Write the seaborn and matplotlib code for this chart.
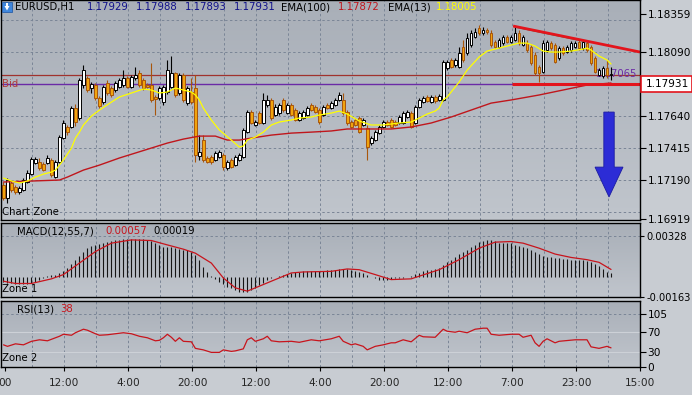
import numpy as np
import pandas as pd
import matplotlib
matplotlib.use("Agg")
import matplotlib.pyplot as plt
import seaborn as sns
from matplotlib.patches import Rectangle, Polygon
from matplotlib.colors import LinearSegmentedColormap

# ---------------------------------------------------------------- data
symbol = "EURUSD,H1"
header_ohlc = ["1.17929", "1.17988", "1.17893", "1.17931"]
ema100_text, ema13_text = "1.17872", "1.18005"
macd_texts = ("0.00057", "0.00019")
rsi_text = "38"
bid_price = 1.17931
bid_line2 = 1.17865
obj_label = "1.17065"

open_ = [1.17155, 1.17064, 1.17169, 1.17141, 1.17106, 1.17120, 1.17176, 1.17232, 1.17309, 1.17317,
         1.17302, 1.17309, 1.17331, 1.17211, 1.17317, 1.17485, 1.17563, 1.17563, 1.17696, 1.17626,
         1.17858, 1.17907, 1.17837, 1.17858, 1.17767, 1.17738, 1.17872, 1.17837, 1.17823, 1.17844,
         1.17858, 1.17907, 1.17844, 1.17907, 1.17942, 1.17893, 1.17858, 1.17858, 1.17774, 1.17767,
         1.17738, 1.17809, 1.17844, 1.17942, 1.17802, 1.17928, 1.17731, 1.17809, 1.17837, 1.17359,
         1.17471, 1.17345, 1.17352, 1.17331, 1.17352, 1.17366, 1.17274, 1.17331, 1.17295, 1.17331,
         1.17352, 1.17527, 1.17668, 1.17577, 1.17661, 1.17591, 1.17717, 1.17753, 1.17647, 1.17661,
         1.17753, 1.17661, 1.17717, 1.17682, 1.17612, 1.17626, 1.17647, 1.17717, 1.17703, 1.17682,
         1.17647, 1.17717, 1.17696, 1.17717, 1.17753, 1.17753, 1.17668, 1.17598, 1.17612, 1.17626,
         1.17577, 1.17556, 1.17450, 1.17471, 1.17520, 1.17563, 1.17598, 1.17612, 1.17598, 1.17591,
         1.17591, 1.17633, 1.17661, 1.17591, 1.17703, 1.17738, 1.17774, 1.17738, 1.17774, 1.17753,
         1.17753, 1.17978, 1.18034, 1.17999, 1.17985, 1.18125, 1.18083, 1.18139, 1.18196, 1.18259,
         1.18224, 1.18245, 1.18224, 1.18160, 1.18125, 1.18153, 1.18196, 1.18160, 1.18174, 1.18224,
         1.18139, 1.18153, 1.18125, 1.18069, 1.17985, 1.17949, 1.18104, 1.18153, 1.18139, 1.18048,
         1.18118, 1.18090, 1.18104, 1.18125, 1.18160, 1.18118, 1.18153, 1.18125, 1.18048, 1.17928,
         1.17921, 1.17978, 1.17929]
close = [1.17064, 1.17190, 1.17120, 1.17106, 1.17134, 1.17190, 1.17239, 1.17338, 1.17338, 1.17274,
         1.17260, 1.17345, 1.17225, 1.17317, 1.17492, 1.17591, 1.17527, 1.17696, 1.17598, 1.17893,
         1.17963, 1.17823, 1.17865, 1.17767, 1.17710, 1.17844, 1.17802, 1.17788, 1.17872, 1.17893,
         1.17907, 1.17844, 1.17914, 1.17928, 1.17858, 1.17837, 1.17844, 1.17753, 1.17760, 1.17837,
         1.17844, 1.17963, 1.17942, 1.17788, 1.17928, 1.17753, 1.17837, 1.17738, 1.17366, 1.17387,
         1.17331, 1.17317, 1.17317, 1.17380, 1.17387, 1.17281, 1.17317, 1.17281, 1.17352, 1.17366,
         1.17542, 1.17668, 1.17591, 1.17598, 1.17591, 1.17753, 1.17753, 1.17626, 1.17703, 1.17717,
         1.17682, 1.17717, 1.17647, 1.17612, 1.17661, 1.17668, 1.17696, 1.17682, 1.17668, 1.17598,
         1.17703, 1.17696, 1.17731, 1.17753, 1.17788, 1.17661, 1.17591, 1.17563, 1.17577, 1.17527,
         1.17612, 1.17422, 1.17485, 1.17527, 1.17563, 1.17598, 1.17577, 1.17563, 1.17577, 1.17633,
         1.17661, 1.17668, 1.17563, 1.17703, 1.17753, 1.17767, 1.17745, 1.17774, 1.17745, 1.17781,
         1.18020, 1.18020, 1.17985, 1.18034, 1.18083, 1.18034, 1.18189, 1.18224, 1.18231, 1.18224,
         1.18245, 1.18231, 1.18139, 1.18125, 1.18174, 1.18196, 1.18160, 1.18196, 1.18224, 1.18153,
         1.18196, 1.18104, 1.18013, 1.17942, 1.17942, 1.18153, 1.18160, 1.18118, 1.18020, 1.18118,
         1.18083, 1.18125, 1.18153, 1.18153, 1.18118, 1.18160, 1.18104, 1.18013, 1.17949, 1.17963,
         1.17978, 1.17928, 1.17931]
high = [1.17176, 1.17204, 1.17183, 1.17155, 1.17148, 1.17204, 1.17260, 1.17352, 1.17352, 1.17345,
        1.17317, 1.17366, 1.17345, 1.17331, 1.17506, 1.17612, 1.17577, 1.17710, 1.17724, 1.17907,
        1.17999, 1.17921, 1.17879, 1.17872, 1.17781, 1.17858, 1.17893, 1.17851, 1.17886, 1.17907,
        1.17963, 1.17921, 1.17928, 1.17985, 1.17963, 1.17907, 1.17872, 1.18013, 1.17788, 1.17851,
        1.17858, 1.18034, 1.18062, 1.17949, 1.17942, 1.17942, 1.17851, 1.17907, 1.17928, 1.17506,
        1.17506, 1.17359, 1.17366, 1.17394, 1.17401, 1.17380, 1.17331, 1.17345, 1.17366, 1.17380,
        1.17556, 1.17682, 1.17682, 1.17612, 1.17675, 1.17802, 1.17788, 1.17767, 1.17724, 1.17731,
        1.17767, 1.17731, 1.17731, 1.17696, 1.17675, 1.17682, 1.17710, 1.17731, 1.17717, 1.17696,
        1.17717, 1.17731, 1.17745, 1.17767, 1.17809, 1.17802, 1.17682, 1.17612, 1.17626, 1.17640,
        1.17626, 1.17577, 1.17499, 1.17542, 1.17577, 1.17612, 1.17612, 1.17626, 1.17612, 1.17647,
        1.17675, 1.17682, 1.17675, 1.17717, 1.17767, 1.17781, 1.17788, 1.17788, 1.17788, 1.17795,
        1.18034, 1.18034, 1.18048, 1.18048, 1.18125, 1.18174, 1.18224, 1.18245, 1.18259, 1.18280,
        1.18266, 1.18259, 1.18245, 1.18174, 1.18189, 1.18210, 1.18210, 1.18210, 1.18266, 1.18245,
        1.18210, 1.18174, 1.18139, 1.18090, 1.17999, 1.18174, 1.18174, 1.18167, 1.18153, 1.18132,
        1.18132, 1.18139, 1.18167, 1.18167, 1.18174, 1.18174, 1.18167, 1.18139, 1.18062, 1.17978,
        1.17992, 1.18034, 1.17988]
low = [1.17050, 1.17029, 1.17106, 1.17092, 1.17092, 1.17113, 1.17169, 1.17225, 1.17302, 1.17260,
       1.17253, 1.17302, 1.17211, 1.17204, 1.17309, 1.17478, 1.17506, 1.17556, 1.17570, 1.17612,
       1.17837, 1.17809, 1.17802, 1.17753, 1.17696, 1.17724, 1.17788, 1.17774, 1.17809, 1.17837,
       1.17844, 1.17837, 1.17837, 1.17893, 1.17844, 1.17823, 1.17837, 1.17738, 1.17647, 1.17753,
       1.17717, 1.17795, 1.17837, 1.17774, 1.17788, 1.17738, 1.17717, 1.17724, 1.17317, 1.17331,
       1.17317, 1.17309, 1.17302, 1.17324, 1.17345, 1.17260, 1.17260, 1.17274, 1.17288, 1.17324,
       1.17345, 1.17520, 1.17584, 1.17570, 1.17584, 1.17584, 1.17703, 1.17612, 1.17640, 1.17647,
       1.17668, 1.17654, 1.17640, 1.17605, 1.17605, 1.17619, 1.17640, 1.17675, 1.17661, 1.17584,
       1.17640, 1.17689, 1.17689, 1.17710, 1.17745, 1.17647, 1.17577, 1.17556, 1.17570, 1.17520,
       1.17570, 1.17331, 1.17436, 1.17464, 1.17513, 1.17556, 1.17570, 1.17556, 1.17570, 1.17584,
       1.17584, 1.17626, 1.17556, 1.17584, 1.17696, 1.17731, 1.17738, 1.17731, 1.17731, 1.17745,
       1.17745, 1.17963, 1.17978, 1.17985, 1.17978, 1.18020, 1.18069, 1.18125, 1.18189, 1.18210,
       1.18210, 1.18217, 1.18125, 1.18118, 1.18118, 1.18139, 1.18153, 1.18153, 1.18167, 1.18139,
       1.18132, 1.18090, 1.17999, 1.17928, 1.17879, 1.17942, 1.18090, 1.18104, 1.18013, 1.18034,
       1.18069, 1.18083, 1.18090, 1.18118, 1.18104, 1.18104, 1.18090, 1.17999, 1.17942, 1.17921,
       1.17907, 1.17907, 1.17893]

ema13_idx = [0, 2, 4, 6, 8, 10, 12, 13, 15, 17, 18, 19, 20, 22, 24, 27, 29, 32, 35, 37,
             39, 41, 43, 45, 47, 48, 49, 50, 52, 54, 57, 59, 60, 61, 63, 65, 67, 69, 72, 74,
             77, 79, 82, 84, 86, 89, 92, 95, 97, 99, 102, 104, 106, 108, 109, 110, 111, 114, 116, 119,
             121, 124, 126, 129, 131, 133, 135, 137, 139, 142, 145, 146, 147, 149, 151, 152]
ema13_val = [1.17204, 1.17183, 1.17169, 1.17183, 1.17211, 1.17232, 1.17246, 1.17260, 1.17331, 1.17415,
             1.17485, 1.17527, 1.17577, 1.17640, 1.17682, 1.17738, 1.17774, 1.17802, 1.17830, 1.17823,
             1.17802, 1.17809, 1.17837, 1.17823, 1.17809, 1.17788, 1.17753, 1.17696, 1.17612, 1.17542,
             1.17471, 1.17422, 1.17429, 1.17471, 1.17492, 1.17527, 1.17577, 1.17598, 1.17612, 1.17626,
             1.17633, 1.17647, 1.17661, 1.17675, 1.17654, 1.17605, 1.17577, 1.17577, 1.17584, 1.17591,
             1.17598, 1.17626, 1.17654, 1.17675, 1.17696, 1.17753, 1.17774, 1.17879, 1.17963, 1.18055,
             1.18097, 1.18118, 1.18132, 1.18153, 1.18153, 1.18132, 1.18097, 1.18090, 1.18090, 1.18097,
             1.18111, 1.18118, 1.18104, 1.18062, 1.18034, 1.18006]

ema100_idx = [0, 14, 16, 20, 24, 29, 33, 37, 41, 45, 49, 53, 56, 59, 62, 67, 72, 77, 82, 86,
              92, 97, 102, 107, 112, 117, 122, 127, 134, 140, 146, 152]
ema100_val = [1.17176, 1.17190, 1.17211, 1.17260, 1.17295, 1.17345, 1.17380, 1.17415, 1.17450, 1.17478,
              1.17499, 1.17499, 1.17471, 1.17471, 1.17485, 1.17506, 1.17520, 1.17527, 1.17535, 1.17549,
              1.17549, 1.17549, 1.17563, 1.17591, 1.17633, 1.17682, 1.17731, 1.17753, 1.17788, 1.17823,
              1.17858, 1.17872]

# MACD(12,55,7) histogram, one value per bar, in units of 1e-5
macd_hist_1e5 = [-45, -50, -55, -58, -60, -60, -58, -52, -40, -25,
                 -10, 5, 10, 15, 25, 45, 70, 100, 130, 165,
                 200, 225, 245, 255, 262, 272, 280, 288, 292, 296,
                 298, 300, 301, 301, 300, 298, 292, 282, 270, 250,
                 240, 238, 236, 230, 222, 215, 210, 195, 170, 130,
                 80, 35, 5, -20, -40, -60, -80, -95, -110, -120,
                 -125, -120, -110, -90, -70, -50, -30, -15, -5, 5,
                 15, 22, 28, 35, 40, 42, 45, 46, 47, 46,
                 47, 49, 50, 52, 57, 60, 58, 50, 42, 35,
                 30, 15, -5, -15, -25, -30, -25, -18, -15, -12,
                 -8, -3, 2, 20, 32, 42, 50, 55, 62, 68,
                 95, 115, 135, 160, 180, 198, 215, 235, 255, 275,
                 288, 293, 293, 282, 272, 270, 268, 265, 255, 245,
                 240, 225, 210, 195, 180, 165, 160, 155, 150, 148,
                 140, 137, 135, 135, 132, 130, 125, 115, 100, 85,
                 60, 40, 25]
signal_idx = [0, 3, 7, 12, 15, 19, 23, 27, 32, 37, 41, 45, 48, 52, 55, 58, 61, 63, 67, 72,
              75, 82, 86, 89, 93, 97, 102, 104, 109, 114, 119, 123, 127, 130, 134, 138, 142, 146, 149, 152]
signal_1e5 = [-37, -55, -55, -18, 16, 108, 200, 267, 293, 288, 253, 219, 187, 108, -11, -90, -116, -90, -37, 29,
              37, 42, 61, 55, 16, -24, -18, 3, 55, 135, 227, 275, 280, 267, 227, 180, 153, 135, 114, 57]

rsi_idx = [0, 1, 3, 5, 7, 9, 11, 14, 15, 17, 18, 20, 21, 23, 24, 26, 28, 30, 32, 34,
           36, 38, 39, 40, 41, 42, 43, 44, 45, 47, 48, 50, 52, 54, 55, 57, 58, 60, 61, 62,
           63, 65, 66, 67, 69, 72, 74, 77, 79, 82, 84, 85, 87, 88, 90, 91, 93, 95, 97, 98,
           100, 102, 104, 105, 108, 110, 111, 113, 114, 116, 118, 120, 121, 122, 124, 127, 129, 130, 132, 133,
           134, 135, 136, 138, 139, 143, 146, 147, 149, 151, 152]
rsi_val = [44, 41, 46, 44, 51, 54, 52, 61, 65, 63, 68, 75, 73, 66, 63, 64, 66, 68, 66, 61,
           58, 52, 53, 58, 65, 59, 51, 58, 51, 50, 37, 34, 29, 29, 34, 31, 32, 36, 54, 58,
           51, 56, 61, 52, 50, 51, 49, 54, 52, 56, 61, 51, 44, 46, 41, 34, 41, 44, 48, 48,
           54, 50, 63, 60, 59, 75, 71, 69, 71, 68, 75, 77, 77, 65, 63, 65, 65, 59, 63, 48,
           41, 51, 56, 48, 51, 54, 54, 40, 37, 41, 38]

price_ticks = [1.18359, 1.18090, 1.17640, 1.17415, 1.17190, 1.16919]
price_grid = [1.18315, 1.18090, 1.17865, 1.17640, 1.17415, 1.17190, 1.16965]
macd_ticks = [0.00328, -0.00163]
rsi_ticks = [105, 70, 30, 0]
rsi_levels = [70, 30]
time_labels = ["00", "12:00", "4:00", "20:00", "12:00", "4:00", "20:00", "12:00", "7:00", "23:00", "15:00"]
time_pos = [0.5, 15.25, 31.25, 47.25, 63.25, 79.25, 95.25, 111.25, 127.25, 143.25, 159.25]
vgrid_pos = [7.25, 15.25, 23.25, 31.25, 39.25, 47.25, 55.25, 63.25, 71.25, 79.25,
             87.25, 95.25, 103.25, 111.25, 119.25, 127.25, 135.25, 143.25, 151.25]

# drawn objects (trend lines / arrow) in bar-index / price coordinates
resist_x, resist_y = [127.5, 159.25], [1.18273, 1.18090]
green_x, green_y = [128.0, 146.25], [1.18266, 1.18160]
support_x, support_y = [127.25, 159.25], [1.17865, 1.17865]
arrow_x = [150.2, 152.8, 152.8, 155.0, 151.5, 148.0, 150.2]
arrow_y = [1.17668, 1.17668, 1.17281, 1.17281, 1.17071, 1.17281, 1.17281]

# ---------------------------------------------------------------- style
sns.set_theme(style="white")
plt.rcParams['font.family'] = ['DejaVu Sans']
plt.rcParams['axes.unicode_minus'] = False

W, H = 692, 395
fig = plt.figure(figsize=(W / 100, H / 100), dpi=100)
fig.patch.set_facecolor('#c8ccd2')


def fx(x):
    return x / W


def fy(y):
    return 1 - y / H


def make_ax(top, bottom):
    return fig.add_axes([fx(0.5), fy(bottom), fx(640) - fx(0.5), fy(top) - fy(bottom)])


ax = make_ax(0, 220)
axm = make_ax(223, 297)
axr = make_ax(301, 367)

bg_cmap = LinearSegmentedColormap.from_list("bg", ["#a9afb8", "#c0c5cc"])
XLIM = (-0.75, 159.25)
GRID = dict(color='#7a8596', lw=0.7, ls=(0, (2.5, 2.5)), zorder=1)

for a in (ax, axm, axr):
    a.imshow(np.linspace(0, 1, 64).reshape(-1, 1), cmap=bg_cmap, extent=(0, 1, 0, 1),
             transform=a.transAxes, aspect='auto', zorder=0, interpolation='bilinear')
    for s in a.spines.values():
        s.set_color('black')
        s.set_linewidth(1.0)
        s.set_zorder(10)
    for v in vgrid_pos:
        a.axvline(v, **GRID)
    a.yaxis.tick_right()
    a.tick_params(axis='y', direction='out', length=4, width=0.8, color='black',
                  labelsize=7.6, pad=1.5, labelcolor='black')
    a.tick_params(axis='x', bottom=False, labelbottom=False)
    a.set_xlim(*XLIM)
    a.grid(False)

# ---------------------------------------------------------------- main panel
ax.set_ylim(1.16909, 1.18456)
for g in price_grid:
    ax.axhline(g, **GRID)
ax.set_yticks(price_ticks)
ax.set_yticklabels([f"{v:.5f}" for v in price_ticks])

ax.axhline(bid_price, color='#a0322e', lw=0.9, zorder=2)
ax.axhline(bid_line2, color='#6a2aa6', lw=1.0, zorder=2)

ax.text(148.2, 1.17935, obj_label, color='#6a2aa6', fontsize=7.2, va='center', ha='left', zorder=2)

df = pd.DataFrame(dict(i=np.arange(len(close)), o=open_, h=high, l=low, c=close))
bull = df.c >= df.o
for mask, face, edge in [(bull, 'white', 'black'), (~bull, '#f0a40e', '#a8560c')]:
    d = df[mask]
    ax.vlines(d.i, d.l, d.h, color=edge, lw=0.8, zorder=3)
    ax.bar(d.i, np.maximum((d.c - d.o).abs(), 0.00004), bottom=np.minimum(d.o, d.c),
           width=0.68, color=face, edgecolor=edge, linewidth=0.7, zorder=4)

sns.lineplot(x=ema100_idx, y=ema100_val, ax=ax, color='#c0161c', lw=1.0, zorder=5,
             estimator=None, sort=False)
sns.lineplot(x=ema13_idx, y=ema13_val, ax=ax, color='#ffff00', lw=0.9, zorder=5,
             estimator=None, sort=False)

ax.plot(green_x, green_y, color='#3d6b3a', lw=0.9, zorder=6)
ax.plot(resist_x, resist_y, color='#e3141c', lw=2.0, zorder=7, solid_capstyle='butt')
ax.plot(support_x, support_y, color='#e3141c', lw=2.2, zorder=7, solid_capstyle='butt')
ax.add_patch(Polygon(list(zip(arrow_x, arrow_y)), closed=True, facecolor='#2c2cd6',
                     edgecolor='#1c1ca0', lw=0.6, zorder=8))
ax.set_xlim(*XLIM)
ax.set_ylim(1.16909, 1.18456)

# ---------------------------------------------------------------- MACD panel
macd_hist = np.array(macd_hist_1e5) * 1e-5
signal = np.array(signal_1e5) * 1e-5
axm.axhline(macd_ticks[0], **GRID)
axm.vlines(np.arange(len(macd_hist)), 0, macd_hist, color='#151515', lw=0.8, zorder=3)
sns.lineplot(x=signal_idx, y=signal, ax=axm, color='#c8141c', lw=0.9, zorder=4,
             estimator=None, sort=False)
axm.set_yticks(macd_ticks)
axm.set_yticklabels([f"{v:.5f}" for v in macd_ticks])
axm.tick_params(axis='y', length=3, labelsize=7.1, pad=1.5)
axm.set_xlim(*XLIM)
axm.set_ylim(-0.00163, 0.00428)

# ---------------------------------------------------------------- RSI panel
axr.axhline(105, **GRID)
for lvl in rsi_levels:
    axr.axhline(lvl, color='#cdd1d7', lw=0.8, zorder=1)
sns.lineplot(x=rsi_idx, y=rsi_val, ax=axr, color='#c8141c', lw=0.9, zorder=4,
             estimator=None, sort=False)
axr.set_yticks(rsi_ticks)
axr.set_yticklabels([str(v) for v in rsi_ticks])
axr.set_xticks(time_pos)
axr.set_xticklabels(time_labels)
axr.tick_params(axis='x', bottom=True, labelbottom=True, direction='out', length=3,
                width=0.8, color='black', labelsize=7.6, pad=5)
axr.set_xlim(*XLIM)
axr.set_ylim(0, 131)
for a in (ax, axm, axr):
    a.set_xlabel("")
    a.set_ylabel("")

# ---------------------------------------------------------------- texts
FS = 7.3


def ftxt(x, y, s, color='black', size=FS):
    fig.text(fx(x), fy(y), s, color=color, fontsize=size, va='center', ha='left')


# header icon
fig.add_artist(Rectangle((fx(2), fy(12)), fx(10), 10 / H, transform=fig.transFigure,
                         facecolor='#3f86dc', edgecolor='#2a5fa8', lw=0.6))
fig.add_artist(Polygon([(fx(4.5), fy(6)), (fx(9.5), fy(6)), (fx(7), fy(10.5))], closed=True,
                       transform=fig.transFigure, facecolor='white', edgecolor='none'))
fig.add_artist(Rectangle((fx(6.2), fy(6.2)), fx(1.6), 3.6 / H, transform=fig.transFigure,
                         facecolor='white', edgecolor='none'))

ftxt(15, 7, symbol)
for s, x in zip(header_ohlc, [87, 136, 185, 234]):
    ftxt(x, 7, s, color='#10108a')
ftxt(281, 7, "EMA(100)")
ftxt(338, 7, ema100_text, color='#c0161c')
ftxt(388, 7, "EMA(13)")
ftxt(436, 7, ema13_text, color='#ffff00')

ftxt(2, 84, "Bid", color='#b03a3a')
ftxt(2, 212, "Chart Zone")
ftxt(17, 231, "MACD(12,55,7)")
ftxt(105, 231, macd_texts[0], color='#c8141c')
ftxt(153, 231, macd_texts[1])
ftxt(2, 289, "Zone 1")
ftxt(17, 309, "RSI(13)")
ftxt(60, 309, rsi_text, color='#c8141c')
ftxt(2, 358, "Zone 2")

# current price box
fig.add_artist(Rectangle((fx(641), fy(92)), fx(50.5), 16 / H, transform=fig.transFigure,
                         facecolor='white', edgecolor='#e3141c', lw=1.2))
fig.text(fx(646), fy(84), f"{bid_price:.5f}", color='black', fontsize=7.6, va='center', ha='left')

fig.savefig("out.png", dpi=100, facecolor=fig.get_facecolor())
